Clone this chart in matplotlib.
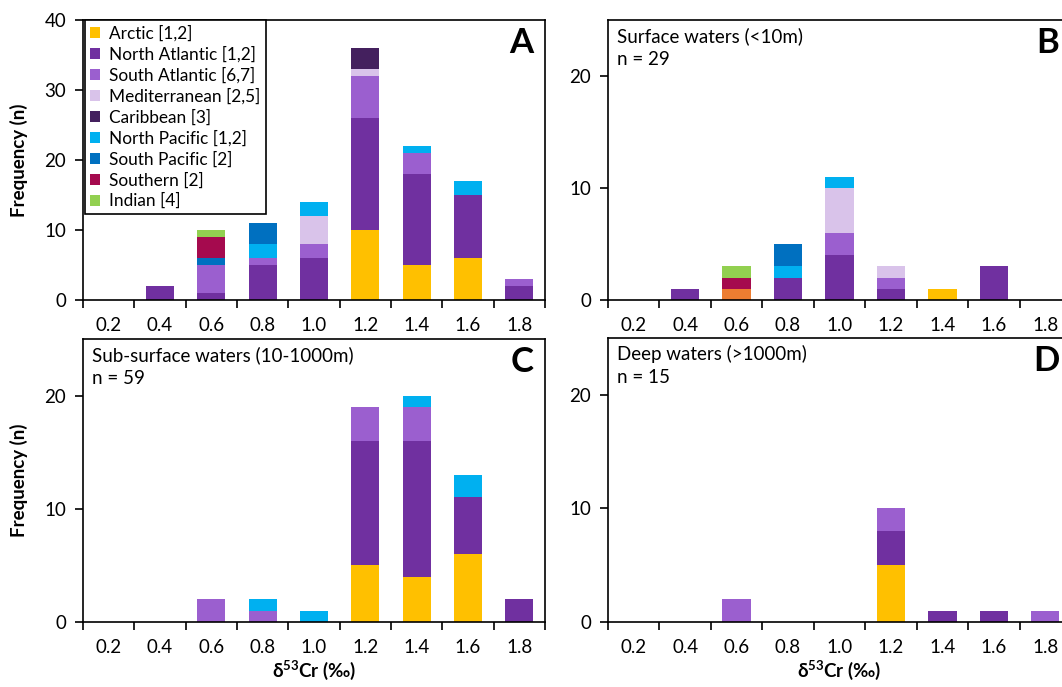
import matplotlib.pyplot as plt
from matplotlib.patches import Patch
import numpy as np

plt.rcParams['font.family'] = ['Lato', 'DejaVu Sans']
plt.rcParams['mathtext.fontset'] = 'custom'
plt.rcParams['mathtext.rm'] = 'Lato'
plt.rcParams['mathtext.bf'] = 'Lato:bold'

bins = ['0.2', '0.4', '0.6', '0.8', '1.0', '1.2', '1.4', '1.6', '1.8']

regions = ['Other', 'Arctic [1,2]', 'North Atlantic [1,2]', 'South Atlantic [6,7]',
           'Mediterranean [2,5]', 'Caribbean [3]', 'North Pacific [1,2]',
           'South Pacific [2]', 'Southern [2]', 'Indian [4]']
colors = ['#ED7D31', '#FFC000', '#7030A0', '#9B5FCF', '#D9C3EA', '#44205E',
          '#00B0F0', '#0070C0', '#A50A4E', '#92D050']

# counts per region and bin, panel A = all data
all_other   = [0, 0, 0, 0, 0, 0, 0, 0, 0]
all_arctic  = [0, 0, 0, 0, 0, 10, 5, 6, 0]
all_natl    = [0, 2, 1, 5, 6, 16, 13, 9, 2]
all_satl    = [0, 0, 4, 1, 2, 6, 3, 0, 1]
all_med     = [0, 0, 0, 0, 4, 1, 0, 0, 0]
all_carib   = [0, 0, 0, 0, 0, 3, 0, 0, 0]
all_npac    = [0, 0, 0, 2, 2, 0, 1, 2, 0]
all_spac    = [0, 0, 1, 3, 0, 0, 0, 0, 0]
all_south   = [0, 0, 3, 0, 0, 0, 0, 0, 0]
all_indian  = [0, 0, 1, 0, 0, 0, 0, 0, 0]

surf_other  = [0, 0, 1, 0, 0, 0, 0, 0, 0]
surf_arctic = [0, 0, 0, 0, 0, 0, 1, 0, 0]
surf_natl   = [0, 1, 0, 2, 4, 1, 0, 3, 0]
surf_satl   = [0, 0, 0, 0, 2, 1, 0, 0, 0]
surf_med    = [0, 0, 0, 0, 4, 1, 0, 0, 0]
surf_carib  = [0, 0, 0, 0, 0, 0, 0, 0, 0]
surf_npac   = [0, 0, 0, 1, 1, 0, 0, 0, 0]
surf_spac   = [0, 0, 0, 2, 0, 0, 0, 0, 0]
surf_south  = [0, 0, 1, 0, 0, 0, 0, 0, 0]
surf_indian = [0, 0, 1, 0, 0, 0, 0, 0, 0]

sub_other   = [0, 0, 0, 0, 0, 0, 0, 0, 0]
sub_arctic  = [0, 0, 0, 0, 0, 5, 4, 6, 0]
sub_natl    = [0, 0, 0, 0, 0, 11, 12, 5, 2]
sub_satl    = [0, 0, 2, 1, 0, 3, 3, 0, 0]
sub_med     = [0, 0, 0, 0, 0, 0, 0, 0, 0]
sub_carib   = [0, 0, 0, 0, 0, 0, 0, 0, 0]
sub_npac    = [0, 0, 0, 1, 1, 0, 1, 2, 0]
sub_spac    = [0, 0, 0, 0, 0, 0, 0, 0, 0]
sub_south   = [0, 0, 0, 0, 0, 0, 0, 0, 0]
sub_indian  = [0, 0, 0, 0, 0, 0, 0, 0, 0]

deep_other  = [0, 0, 0, 0, 0, 0, 0, 0, 0]
deep_arctic = [0, 0, 0, 0, 0, 5, 0, 0, 0]
deep_natl   = [0, 0, 0, 0, 0, 3, 1, 1, 0]
deep_satl   = [0, 0, 2, 0, 0, 2, 0, 0, 1]
deep_med    = [0, 0, 0, 0, 0, 0, 0, 0, 0]
deep_carib  = [0, 0, 0, 0, 0, 0, 0, 0, 0]
deep_npac   = [0, 0, 0, 0, 0, 0, 0, 0, 0]
deep_spac   = [0, 0, 0, 0, 0, 0, 0, 0, 0]
deep_south  = [0, 0, 0, 0, 0, 0, 0, 0, 0]
deep_indian = [0, 0, 0, 0, 0, 0, 0, 0, 0]

panels = [
    ('A', None, None, 40, [all_other, all_arctic, all_natl, all_satl, all_med, all_carib,
                           all_npac, all_spac, all_south, all_indian]),
    ('B', 'Surface waters (<10m)', 'n = 29', 25,
     [surf_other, surf_arctic, surf_natl, surf_satl, surf_med, surf_carib,
      surf_npac, surf_spac, surf_south, surf_indian]),
    ('C', 'Sub-surface waters (10-1000m)', 'n = 59', 25,
     [sub_other, sub_arctic, sub_natl, sub_satl, sub_med, sub_carib,
      sub_npac, sub_spac, sub_south, sub_indian]),
    ('D', 'Deep waters (>1000m)', 'n = 15', 25,
     [deep_other, deep_arctic, deep_natl, deep_satl, deep_med, deep_carib,
      deep_npac, deep_spac, deep_south, deep_indian]),
]

W, H = 1062, 687
boxes = [(83, 545, 20, 300), (608, 1071, 20, 300), (83, 545, 339, 622), (608, 1071, 338, 622)]

fig = plt.figure(figsize=(W / 100, H / 100), dpi=100)
x = np.arange(len(bins))

for (letter, title, ntext, ymax, data), (l, r, t, b) in zip(panels, boxes):
    ax = fig.add_axes([l / W, 1 - b / H, (r - l) / W, (b - t) / H])
    bottom = np.zeros(len(bins))
    for vals, c in zip(data, colors):
        vals = np.array(vals)
        ax.bar(x, vals, width=0.55, bottom=bottom, color=c, linewidth=0)
        bottom += vals
    ax.set_xlim(-0.5, len(bins) - 0.5)
    ax.set_ylim(0, ymax)
    ax.set_yticks(range(0, ymax + 1, 10))
    ax.set_xticks(np.arange(len(bins) + 1) - 0.5)
    ax.set_xticklabels([])
    ax.set_xticks(x, minor=True)
    ax.set_xticklabels(bins, minor=True)
    ax.tick_params(axis='x', which='minor', length=0, pad=12, labelsize=13.5)
    ax.tick_params(axis='x', which='major', length=6, width=1.2)
    ax.tick_params(axis='y', length=6, width=1.2, labelsize=13.5, pad=6)
    for s in ax.spines.values():
        s.set_linewidth(1.2)
    ax.text(0.975, 0.975, letter, transform=ax.transAxes, ha='right', va='top',
            fontsize=25, fontweight='bold')
    if title:
        ax.text(0.02, 0.975, title + '\n' + ntext, transform=ax.transAxes,
                ha='left', va='top', fontsize=13.5, linespacing=1.4)
    if letter in ('A', 'C'):
        ax.set_ylabel('Frequency (n)', fontsize=13.5, fontweight='bold', labelpad=12)
    if letter in ('C', 'D'):
        ax.set_xlabel(r'δ$^{\mathbf{53}}$Cr (‰)', fontsize=13.5, fontweight='bold', labelpad=2)
    if letter == 'A':
        handles = [Patch(facecolor=c, label=n) for c, n in zip(colors[1:], regions[1:])]
        leg = ax.legend(handles=handles, loc='upper left', bbox_to_anchor=(0.004, 1.0),
                        borderaxespad=0, fontsize=12.4, handlelength=0.6, handleheight=0.6,
                        handletextpad=0.5, labelspacing=0.27, fancybox=False,
                        framealpha=1, edgecolor='black', borderpad=0.3)
        leg.get_frame().set_linewidth(1.2)

fig.savefig('out.png', dpi=100)
